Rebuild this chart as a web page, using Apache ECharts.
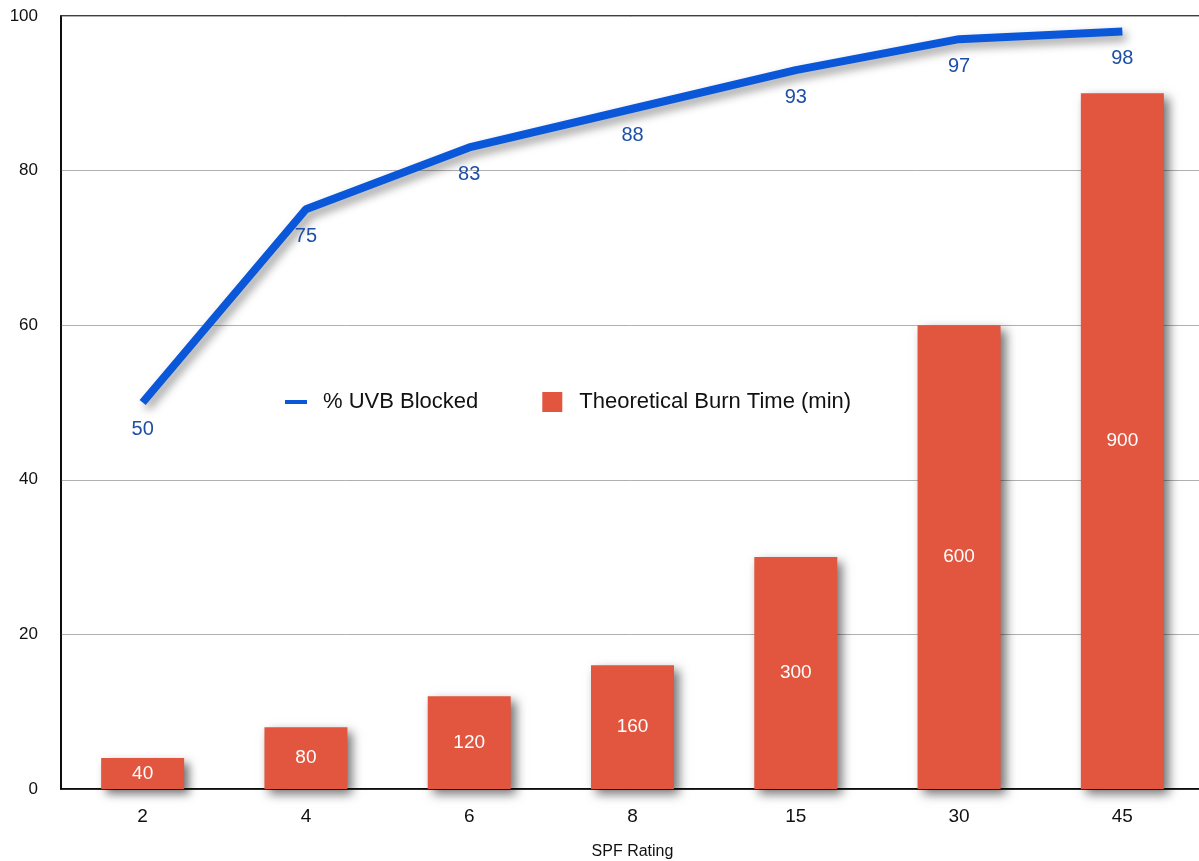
<!DOCTYPE html>
<html>
<head>
<meta charset="utf-8">
<script src="https://cdn.jsdelivr.net/npm/echarts@6/dist/echarts.min.js"></script>
<style>
html,body{margin:0;padding:0;background:#fff;}
#chart{width:1199px;height:861px;}
</style>
</head>
<body>
<div id="chart"></div>
<script>
const categories = ['2', '4', '6', '8', '15', '30', '45'];
const uvbBlocked = [50, 75, 83, 88, 93, 97, 98];
const burnTime = [40, 80, 120, 160, 300, 600, 900];
const yTicks = [0, 20, 40, 60, 80, 100];

const FONT = '"Liberation Sans", Arial, sans-serif';
const chart = echarts.init(document.getElementById('chart'));
chart.setOption({
  animation: false,
  backgroundColor: '#fff',
  textStyle: { fontFamily: FONT },
  grid: {
    left: 61, right: -5, top: 16, bottom: 72,
    outerBoundsMode: 'none',
    containLabel: false,
    show: true, borderColor: '#000', borderWidth: 1.5, backgroundColor: 'transparent'
  },
  legend: {
    left: 280, top: 386,
    itemGap: 64,
    itemWidth: 22, itemHeight: 20,
    textStyle: { fontSize: 22, color: '#111', fontFamily: FONT, padding: [0, 0, 0, 11] },
    data: [
      { name: '% UVB Blocked', icon: 'path://M0,8 L22,8 L22,12 L0,12 Z', itemStyle: { color: '#0a58d9' } },
      { name: 'Theoretical Burn Time (min)', icon: 'path://M1,0 L21,0 L21,20 L1,20 Z' }
    ]
  },
  xAxis: {
    type: 'category',
    data: categories,
    name: 'SPF Rating',
    nameLocation: 'middle',
    nameGap: 55,
    nameTextStyle: { fontSize: 16, color: '#111', fontFamily: FONT },
    axisLine: { lineStyle: { color: '#000', width: 1.5 } },
    axisTick: { show: false },
    axisLabel: { fontSize: 19, color: '#111', margin: 18, fontFamily: FONT }
  },
  yAxis: [
    {
      type: 'value', min: 0, max: 100, interval: 20,
      axisLine: { show: true, lineStyle: { color: '#000', width: 1.5 } },
      axisTick: { show: false },
      axisLabel: { fontSize: 17, color: '#111', margin: 23, fontFamily: FONT,
        formatter: v => yTicks.includes(v) ? String(v) : '' },
      splitLine: { lineStyle: { color: '#b0b0b0', width: 1 } }
    },
    {
      type: 'value', min: 0, max: 1000, show: false,
      splitLine: { show: false }
    }
  ],
  series: [
    {
      name: 'Theoretical Burn Time (min)',
      type: 'bar',
      yAxisIndex: 1,
      data: burnTime,
      barWidth: 83,
      itemStyle: {
        color: '#e2553f',
        shadowBlur: 10, shadowOffsetX: 5, shadowOffsetY: 5,
        shadowColor: 'rgba(0,0,0,0.55)'
      },
      label: {
        show: true, position: 'inside', color: '#fff', fontSize: 19, fontFamily: FONT
      },
      z: 2
    },
    {
      name: '% UVB Blocked',
      type: 'line',
      data: uvbBlocked,
      symbol: 'circle',
      symbolSize: 0,
      showSymbol: true,
      lineStyle: {
        color: '#0a58d9', width: 8,
        shadowBlur: 10, shadowOffsetX: 4, shadowOffsetY: 5,
        shadowColor: 'rgba(0,0,0,0.4)'
      },
      itemStyle: { color: '#0a58d9' },
      label: {
        show: true, position: 'bottom', distance: 17,
        color: '#1e4fa6', fontSize: 20, fontFamily: FONT
      },
      z: 3
    }
  ]
});
</script>
</body>
</html>
